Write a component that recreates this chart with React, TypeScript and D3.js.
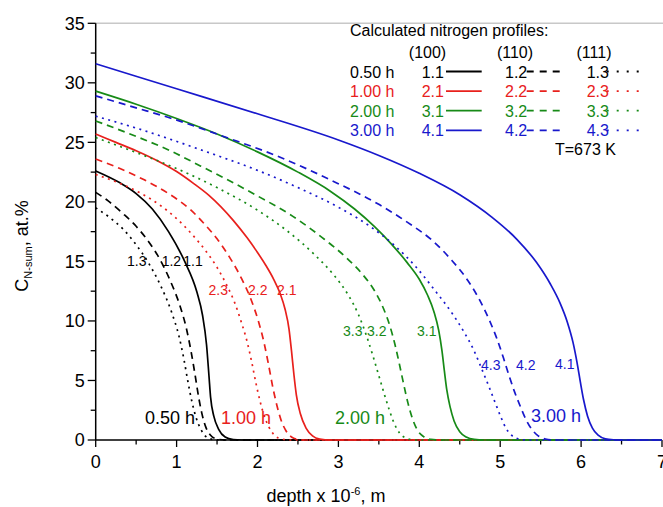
import React from "react";
import * as d3 from "d3";

// ---- data (depth in 1e-6 m, concentration in at.%) ----
const curve1_1: [number, number][] = [[0,22.6],[0.3,21.6],[0.5,20.7],[0.7,19.4],[0.9,17.5],[1.1,15.0],[1.25,12.45],[1.32,10.5],[1.37,8.0],[1.4,5.4],[1.42,3.6],[1.46,2.0],[1.52,0.9],[1.6,0.25],[1.7,0.04],[1.8,0],[7,0]];
const curve1_2: [number, number][] = [[0,20.8],[0.15,20.1],[0.34,19.0],[0.5,17.95],[0.65,16.7],[0.8,15.1],[0.92,13.4],[1.04,11.3],[1.12,9.4],[1.18,7.4],[1.23,5.4],[1.27,3.7],[1.31,2.3],[1.36,1.1],[1.42,0.4],[1.5,0.08],[1.6,0],[7,0]];
const curve1_3: [number, number][] = [[0,19.5],[0.17,18.7],[0.34,17.7],[0.5,16.4],[0.65,14.9],[0.8,13.0],[0.94,10.7],[1.03,8.7],[1.09,6.8],[1.14,4.9],[1.19,3.2],[1.24,1.9],[1.3,0.9],[1.36,0.3],[1.44,0.06],[1.55,0],[7,0]];
const curve2_1: [number, number][] = [[0,25.7],[0.25,25.0],[0.5,24.3],[0.75,23.5],[1.0,22.55],[1.2,21.6],[1.4,20.55],[1.7,18.45],[1.87,17.0],[2.0,15.75],[2.1,14.7],[2.2,13.5],[2.28,12.3],[2.34,11.0],[2.39,9.3],[2.42,7.5],[2.45,5.5],[2.48,3.8],[2.53,2.2],[2.6,1.0],[2.68,0.35],[2.77,0.08],[2.9,0],[7,0]];
const curve2_2: [number, number][] = [[0,23.6],[0.3,22.8],[0.6,21.85],[0.9,20.7],[1.17,19.35],[1.35,18.1],[1.5,16.9],[1.65,15.4],[1.8,13.6],[1.92,11.8],[2.01,10.0],[2.08,8.2],[2.14,6.2],[2.19,4.4],[2.24,2.9],[2.29,1.7],[2.35,0.8],[2.42,0.25],[2.5,0.05],[2.6,0],[7,0]];
const curve2_3: [number, number][] = [[0,22.3],[0.3,21.55],[0.55,20.75],[0.8,19.7],[1.0,18.6],[1.2,17.2],[1.37,15.8],[1.5,14.5],[1.62,13.0],[1.72,11.5],[1.8,9.9],[1.87,8.3],[1.93,6.5],[1.98,4.8],[2.03,3.3],[2.08,2.1],[2.14,1.1],[2.21,0.4],[2.3,0.08],[2.4,0],[7,0]];
const curve3_1: [number, number][] = [[0,29.3],[0.5,28.2],[1.0,27.0],[1.5,25.7],[2.0,24.2],[2.5,22.5],[2.9,20.9],[3.2,19.4],[3.45,17.9],[3.65,16.5],[3.85,14.9],[4.0,13.5],[4.1,12.2],[4.18,10.8],[4.24,9.2],[4.28,7.5],[4.31,5.8],[4.34,4.2],[4.38,2.8],[4.43,1.6],[4.5,0.7],[4.58,0.25],[4.68,0.05],[4.8,0],[7,0]];
const curve3_2: [number, number][] = [[0,26.8],[0.5,25.5],[0.92,24.3],[1.3,23.0],[1.66,21.75],[2.0,20.5],[2.4,18.95],[2.8,17.0],[3.1,15.3],[3.3,13.9],[3.45,12.5],[3.56,11.0],[3.64,9.5],[3.7,8.0],[3.75,6.5],[3.8,4.9],[3.86,3.1],[3.92,1.7],[3.98,0.8],[4.05,0.3],[4.14,0.06],[4.25,0],[7,0]];
const curve3_3: [number, number][] = [[0,25.4],[0.44,24.3],[1.0,22.8],[1.5,21.2],[2.0,19.3],[2.36,17.6],[2.7,15.6],[2.95,13.8],[3.12,12.2],[3.25,10.5],[3.35,8.7],[3.43,7.0],[3.5,5.4],[3.57,3.8],[3.63,2.5],[3.69,1.4],[3.76,0.55],[3.84,0.15],[3.95,0],[7,0]];
const curve4_1: [number, number][] = [[0,31.6],[1.0,29.5],[2.0,27.4],[3.0,25.2],[3.5,23.9],[4.0,22.4],[4.5,20.6],[4.9,18.7],[5.2,16.9],[5.45,14.9],[5.62,13.1],[5.74,11.5],[5.83,9.9],[5.9,8.2],[5.95,6.5],[5.99,4.9],[6.03,3.4],[6.08,2.0],[6.14,1.0],[6.21,0.4],[6.3,0.1],[6.4,0.02],[6.5,0],[7,0]];
const curve4_2: [number, number][] = [[0,28.9],[0.5,27.9],[0.92,27.05],[1.6,25.45],[2.28,23.75],[2.9,21.85],[3.51,19.75],[3.85,18.3],[4.17,16.7],[4.4,15.1],[4.6,13.4],[4.75,11.7],[4.87,10.0],[4.96,8.5],[5.04,6.9],[5.11,5.4],[5.18,4.0],[5.25,2.8],[5.32,1.7],[5.39,0.9],[5.47,0.35],[5.56,0.08],[5.68,0],[7,0]];
const curve4_3: [number, number][] = [[0,27.2],[0.5,26.2],[1.33,24.3],[2.0,22.65],[2.5,21.2],[3.0,19.55],[3.4,17.9],[3.7,16.3],[3.95,14.6],[4.2,12.5],[4.4,10.7],[4.55,9.1],[4.67,7.6],[4.77,6.0],[4.86,4.5],[4.94,3.1],[5.01,1.9],[5.07,1.0],[5.14,0.4],[5.22,0.1],[5.32,0],[7,0]];

const timeLabels = ["0.50 h", "1.00 h", "2.00 h", "3.00 h"];
const orientLabels = ["(100)", "(110)", "(111)"];
const xTicks = [0, 1, 2, 3, 4, 5, 6, 7];
const yTicks = [0, 5, 10, 15, 20, 25, 30, 35];

const COLORS = ["#000000", "#e8201c", "#178a17", "#1818cc"];
const DASHES = [null, "7,5", "2,4.5"];
const curves = [
  [curve1_1, curve1_2, curve1_3],
  [curve2_1, curve2_2, curve2_3],
  [curve3_1, curve3_2, curve3_3],
  [curve4_1, curve4_2, curve4_3],
];

// curve label positions (pixel placement of annotation text)
const curveLabelPos = [
  [[183.3, 266], [161.7, 266], [127, 266]],
  [[277, 294.5], [248, 294.5], [208.5, 294.5]],
  [[417, 336], [367, 336], [343, 336]],
  [[555, 369], [516, 370], [481, 370]],
];
const timeLabelPos = [[145, 423.5], [221, 423.5], [335, 423.5], [531, 421.5]];

const FONT = "'Liberation Sans', Arial, Helvetica, sans-serif";

export default function App() {
  const W = 663, H = 507;
  const x = d3.scaleLinear().domain([0, 7]).range([95.7, 662]);
  const y = d3.scaleLinear().domain([0, 35]).range([440, 23.3]);
  const line = d3.line<[number, number]>().x(d => x(d[0])).y(d => y(d[1])).curve(d3.curveMonotoneX);

  const x0 = x(0), y0 = y(0);
  const xMinor = d3.range(0.5, 7, 1);
  const yMinor = d3.range(2.5, 35, 5);

  const legendRowY = (i: number) => 77.5 + i * 19.6;
  const colLabelX = [421.7, 505, 586.7];
  const colLine = [[446, 481.7], [526.7, 562.7], [606.7, 645]];
  const headerX = [427.5, 515, 594];

  return (
    <svg width={W} height={H} style={{ position: "absolute", left: 0, top: 0, background: "#fff" }} fontFamily={FONT}>
      <rect x={0} y={0} width={W} height={H} fill="#fff" />
      {/* top frame line */}
      <line x1={x0} x2={W} y1={y(35)} y2={y(35)} stroke="#c8c8c8" strokeWidth={1.5} />
      {/* axes */}
      <line x1={x0} x2={x0} y1={y(35)} y2={y0} stroke="#000" strokeWidth={1.5} />
      <line x1={x0} x2={x(7)} y1={y0} y2={y0} stroke="#000" strokeWidth={1.5} />
      {yTicks.map(t => (
        <g key={"y" + t}>
          <line x1={x0 - 8} x2={x0} y1={y(t)} y2={y(t)} stroke="#000" strokeWidth={1.3} />
          <text x={x0 - 11} y={y(t)} dy="0.36em" textAnchor="end" fontSize={18} fill="#000">{t}</text>
        </g>
      ))}
      {yMinor.map(t => (
        <line key={"ym" + t} x1={x0 - 5} x2={x0} y1={y(t)} y2={y(t)} stroke="#000" strokeWidth={1.3} />
      ))}
      {xTicks.map(t => (
        <g key={"x" + t}>
          <line x1={x(t)} x2={x(t)} y1={y0} y2={y0 + 7} stroke="#000" strokeWidth={1.3} />
          <text x={x(t)} y={467.5} textAnchor="middle" fontSize={18} fill="#000">{t}</text>
        </g>
      ))}
      {xMinor.map(t => (
        <line key={"xm" + t} x1={x(t)} x2={x(t)} y1={y0} y2={y0 + 4.5} stroke="#000" strokeWidth={1.3} />
      ))}
      {/* axis titles */}
      <text x={326} y={502} textAnchor="middle" fontSize={18} fill="#000">
        depth x 10<tspan dy={-7} fontSize={11}>-6</tspan><tspan dy={7}>, m</tspan>
      </text>
      <text transform="translate(28,246) rotate(-90)" textAnchor="middle" fontSize={18} fill="#000">
        C<tspan dy={4} fontSize={11}>N-sum</tspan><tspan dy={-4}>, at.%</tspan>
      </text>

      {/* curves */}
      {curves.map((group, gi) =>
        [2, 1, 0].map(si => (
          <path key={`c${gi}${si}`} d={line(group[si]) || ""} fill="none" stroke={COLORS[gi]}
            strokeWidth={1.7} strokeDasharray={DASHES[si] || undefined} />
        ))
      )}

      {/* curve labels */}
      {curveLabelPos.map((g, gi) => g.map((p, si) => (
        <text key={`l${gi}${si}`} x={p[0]} y={p[1]} fontSize={14} fill={COLORS[gi]}>{`${gi + 1}.${si + 1}`}</text>
      )))}
      {timeLabelPos.map((p, gi) => (
        <text key={`t${gi}`} x={p[0]} y={p[1]} fontSize={18} fill={COLORS[gi]}>{timeLabels[gi]}</text>
      ))}

      {/* legend */}
      <text x={350} y={35.7} fontSize={16} fill="#000">Calculated nitrogen profiles:</text>
      {orientLabels.map((o, i) => (
        <text key={o} x={headerX[i]} y={57.5} textAnchor="middle" fontSize={16} fill="#000">{o}</text>
      ))}
      {timeLabels.map((t, gi) => (
        <g key={"lg" + gi}>
          <text x={350} y={legendRowY(gi)} fontSize={16} fill={COLORS[gi]}>{t}</text>
          {[0, 1, 2].map(si => (
            <g key={si}>
              <text x={colLabelX[si]} y={legendRowY(gi)} fontSize={16} fill={COLORS[gi]}>{`${gi + 1}.${si + 1}`}</text>
              <line x1={colLine[si][0]} x2={colLine[si][1]} y1={legendRowY(gi) - 6} y2={legendRowY(gi) - 6}
                stroke={COLORS[gi]} strokeWidth={1.8} strokeDasharray={si === 1 ? "7,6" : si === 2 ? "2,8" : undefined} />
            </g>
          ))}
        </g>
      ))}
      <text x={555} y={155} fontSize={16} fill="#000">T=673 K</text>
    </svg>
  );
}
